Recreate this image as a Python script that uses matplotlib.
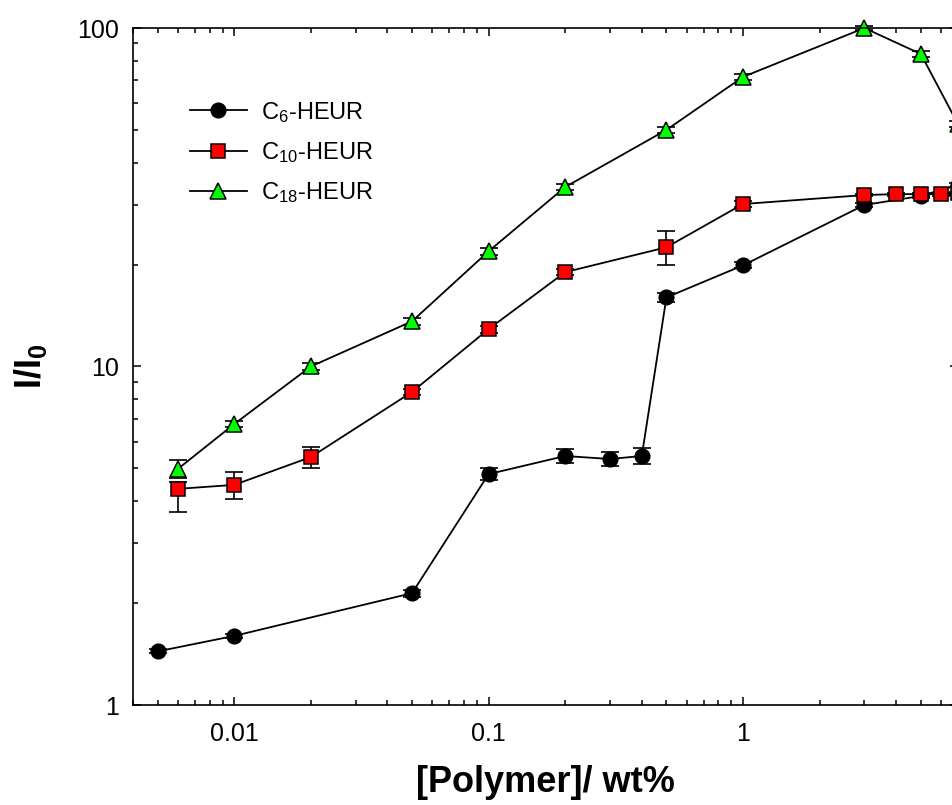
import matplotlib
matplotlib.use("Agg")
import matplotlib.pyplot as plt
from matplotlib.ticker import LogLocator, FixedLocator, FixedFormatter, NullFormatter

plt.rcParams["font.family"] = ["Liberation Sans", "DejaVu Sans"]
plt.rcParams["mathtext.default"] = "regular"

# C6-HEUR
x6 = [0.005, 0.01, 0.05, 0.1, 0.2, 0.3, 0.4, 0.5, 1, 3, 5, 7]
y6 = [1.44, 1.60, 2.14, 4.81, 5.44, 5.33, 5.44, 16.0, 19.9, 30.0, 31.9, 34.4]
e6 = [0.02, 0.02, 0.05, 0.2, 0.25, 0.25, 0.3, 0.5, 0.4, 0.5, 0.4, 0.4]

# C10-HEUR
x10 = [0.006, 0.01, 0.02, 0.05, 0.1, 0.2, 0.5, 1, 3, 4, 5, 6, 7]
y10 = [4.35, 4.47, 5.40, 8.41, 12.9, 19.0, 22.5, 30.2, 32.1, 32.3, 32.3, 32.3, 32.5]
e10_lo = [0.63, 0.41, 0.4, 0.2, 0.3, 0.4, 2.6, 0.6, 0.3, 0.3, 0.3, 0.3, 0.3]
e10_hi = [0.22, 0.41, 0.4, 0.2, 0.3, 0.4, 2.6, 0.6, 0.3, 0.3, 0.3, 0.3, 0.3]

# C18-HEUR
x18 = [0.006, 0.01, 0.02, 0.05, 0.1, 0.2, 0.5, 1, 3, 5, 7]
y18 = [4.98, 6.76, 10.0, 13.6, 21.9, 33.9, 50.0, 71.7, 100, 83.8, 52]
e18 = [0.3, 0.15, 0.25, 0.3, 0.5, 0.7, 1.0, 1.5, 1.5, 1.5, 1.0]

labels = ["C$_{6}$-HEUR", "C$_{10}$-HEUR", "C$_{18}$-HEUR"]
xticks = [0.01, 0.1, 1]
xtick_labels = ["0.01", "0.1", "1"]
yticks = [1, 10, 100]
ytick_labels = ["1", "10", "100"]

fig = plt.figure(figsize=(9.53, 8.05), dpi=100)
ax = fig.add_axes([133 / 953, 100 / 805, 825 / 953, 677 / 805])

ebar = dict(fmt="none", ecolor="black", elinewidth=1.2, capsize=6.5,
            capthick=1.2, clip_on=False)
line = dict(color="black", lw=1.3, markeredgecolor="black",
            markeredgewidth=1.1, clip_on=False)

ax.errorbar(x6, y6, yerr=e6, **ebar)
ax.plot(x6, y6, "-o", markerfacecolor="black", markersize=10.5,
        label=labels[0], **line)
ax.errorbar(x10, y10, yerr=[e10_lo, e10_hi], **ebar)
ax.plot(x10, y10, "-s", markerfacecolor="red", markersize=10.5,
        label=labels[1], **line)
ax.errorbar(x18, y18, yerr=e18, **ebar)
ax.plot(x18, y18, "-^", markerfacecolor="#00ff00", markersize=12,
        label=labels[2], **line)

ax.set_xscale("log")
ax.set_yscale("log")
ax.set_xlim(0.004, 7)
ax.set_ylim(1, 100)

ax.xaxis.set_major_locator(FixedLocator(xticks))
ax.xaxis.set_major_formatter(FixedFormatter(xtick_labels))
ax.yaxis.set_major_locator(FixedLocator(yticks))
ax.yaxis.set_major_formatter(FixedFormatter(ytick_labels))
ax.xaxis.set_minor_locator(LogLocator(base=10, subs=range(2, 10), numticks=20))
ax.yaxis.set_minor_locator(LogLocator(base=10, subs=range(2, 10), numticks=20))
ax.xaxis.set_minor_formatter(NullFormatter())
ax.yaxis.set_minor_formatter(NullFormatter())

ax.tick_params(which="both", direction="in", top=True, right=True, width=1.1)
ax.tick_params(which="major", length=6, labelsize=18)
ax.tick_params(which="minor", length=3.5)
ax.tick_params(axis="x", which="major", pad=12)
ax.tick_params(axis="y", which="major", pad=10)
for s in ax.spines.values():
    s.set_linewidth(1.2)

ax.set_xlabel("[Polymer]/ wt%", fontsize=26, fontweight="bold", labelpad=14)
ax.set_ylabel("I/I$_{0}$", fontsize=26, fontweight="bold", labelpad=20)

leg = ax.legend(loc="upper left", bbox_to_anchor=(0.069, 0.894), frameon=False,
                fontsize=17, handlelength=2.4, handletextpad=0.6,
                labelspacing=0.65, borderpad=0, borderaxespad=0)

fig.savefig("out.png", dpi=100)
